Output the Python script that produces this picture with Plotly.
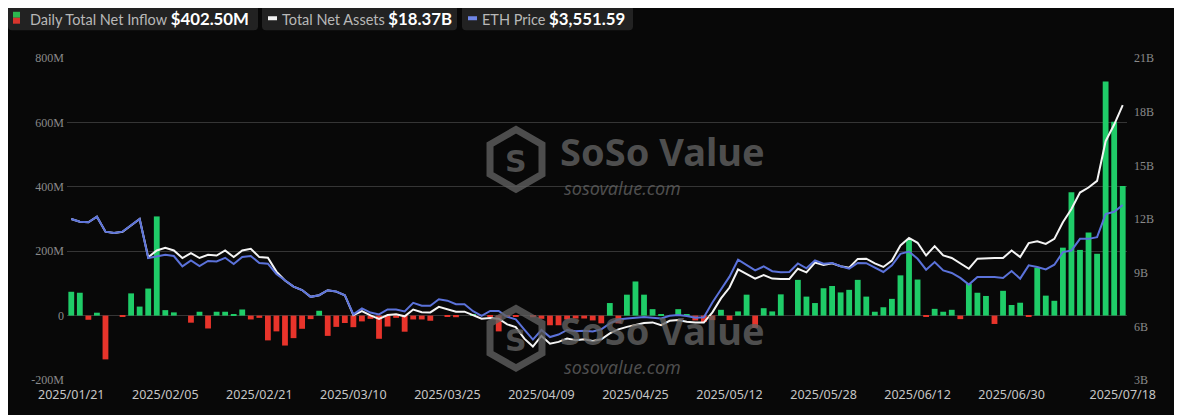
import math
import pandas as pd
import plotly.graph_objects as go

# ---------------- data ----------------
holidays = ["2025-02-17", "2025-04-18", "2025-05-26", "2025-06-19", "2025-07-04"]
dates = [d.strftime("%Y/%m/%d") for d in pd.bdate_range("2025-01-21", "2025-07-18")
         if d.strftime("%Y-%m-%d") not in holidays]

# Daily total net inflow (USD millions)
net_inflow = [74, 71, -13, 9, -136, 0, -2, 69, 28, 84,
              308, 17, 10, 0, -22, 12, -40, 12, 12, 4,
              19, -12, -7, -77, -49, -93, -70, -41, -11, 15,
              -63, -35, -23, -36, -18, -10, -72, -34, -7, -50,
              -12, -12, -16, 0, -3, -5, 0, 4, 0, -2,
              -49, -3, -3, 0, -5, -10, -30, -30, -12, -9,
              -9, -15, -24, 39, -24, 65, 106, 65, 20, 2,
              0, 20, 2, -15, -20, -14, 18, -14, 13, 65,
              -38, 23, 13, 66, 0, 111, 59, 39, 85, 92,
              72, 80, 111, 59, 12, 26, 52, 125, 238, 112,
              -2, 21, 12, 18, -11, 99, 71, 61, -26, 77,
              33, 40, -2, 149, 62, 46, 211, 383, 204, 258,
              192, 727, 602, 402.5]

# Total net assets (USD billions)
net_assets = [12.00, 11.85, 11.82, 12.13, 11.29, 11.22, 11.29, 11.67, 12.00, 9.86,
              10.24, 10.39, 10.24, 9.82, 10.09, 9.82, 10.00, 9.96, 10.24, 9.87,
              10.24, 10.33, 9.87, 9.83, 9.06, 8.56, 8.22, 8.03, 7.65, 7.74,
              8.02, 7.94, 7.74, 6.63, 6.85, 6.61, 6.42, 6.63, 6.67, 6.56,
              6.94, 6.79, 6.78, 7.09, 6.94, 6.82, 6.82, 6.61, 6.43, 6.46,
              6.43, 6.11, 5.96, 5.31, 4.87, 5.46, 5.03, 5.13, 5.32, 5.22,
              5.28, 5.18, 5.28, 5.61, 5.83, 5.97, 6.07, 6.18, 6.22, 6.07,
              6.31, 6.35, 6.26, 6.21, 6.21, 6.78, 7.56, 8.17, 9.18, 8.92,
              8.67, 8.87, 8.67, 8.65, 8.65, 9.22, 9.02, 9.56, 9.43, 9.53,
              9.36, 9.28, 9.77, 9.78, 9.52, 9.32, 9.68, 10.52, 10.94, 10.67,
              9.96, 10.48, 9.96, 9.82, 9.50, 9.22, 9.78, 9.82, 9.82, 9.82,
              10.24, 9.87, 10.65, 10.76, 10.61, 10.89, 11.82, 12.56, 13.48, 13.76,
              14.13, 16.35, 17.28, 18.37]

# ETH price (USD)
eth_price = [3333, 3292, 3282, 3369, 3137, 3117, 3137, 3241, 3333, 2727,
             2758, 2778, 2758, 2597, 2690, 2603, 2681, 2674, 2731, 2634,
             2742, 2758, 2650, 2639, 2480, 2377, 2284, 2230, 2125, 2150,
             2227, 2207, 2150, 1852, 1944, 1880, 1852, 1929, 1929, 1898,
             2032, 1986, 1986, 2088, 2065, 2009, 2009, 1901, 1829, 1906,
             1906, 1816, 1775, 1617, 1461, 1610, 1500, 1539, 1610, 1590,
             1597, 1585, 1620, 1713, 1772, 1790, 1796, 1813, 1801, 1790,
             1832, 1841, 1826, 1801, 1806, 2037, 2238, 2438, 2701, 2623,
             2535, 2597, 2523, 2506, 2511, 2643, 2568, 2690, 2639, 2651,
             2600, 2562, 2651, 2647, 2573, 2511, 2613, 2793, 2829, 2716,
             2546, 2665, 2535, 2495, 2418, 2315, 2434, 2434, 2434, 2418,
             2526, 2407, 2613, 2588, 2551, 2623, 2819, 2844, 3025, 3025,
             3051, 3410, 3446, 3551.59]

tick_idx = [0, 11, 22, 33, 44, 55, 66, 77, 88, 99, 110, 123]
left_ticks = [-200, 0, 200, 400, 600, 800]
left_labels = ["-200M", "0", "200M", "400M", "600M", "800M"]
right_ticks = [3, 6, 9, 12, 15, 18, 21]
right_labels = ["3B", "6B", "9B", "12B", "15B", "18B", "21B"]

# ---------------- styling ----------------
OFF = 8                      # page body margin
PW, PH = 1182, 415           # page size
W, H = PW - OFF, PH - OFF    # figure size
PL, PR, PT, PB = 67, 1127, 58, 382   # plot area in page pixels
BG = "#080808"
GREEN = "#1fcc68"
RED = "#e8342b"
BLUE = "#5b72da"
WHITE = "#f4f4f4"

def pxx(x):
    return (x - PL) / (PR - PL)

def pyy(y):
    return (PB - y) / (PB - PT)

fig = go.Figure()

fig.add_trace(go.Bar(
    x=dates, y=net_inflow, yaxis="y",
    marker=dict(color=[GREEN if v >= 0 else RED for v in net_inflow], line=dict(width=0)),
    width=0.68, name="Daily Total Net Inflow", showlegend=False,
))
fig.add_trace(go.Scatter(
    x=dates, y=eth_price, yaxis="y3", mode="lines",
    line=dict(color=BLUE, width=2), name="ETH Price", showlegend=False,
))
fig.add_trace(go.Scatter(
    x=dates, y=net_assets, yaxis="y2", mode="lines",
    line=dict(color=WHITE, width=2), name="Total Net Assets", showlegend=False,
))

tickfont_y = dict(family="Liberation Serif", size=12, color="#8a8a8a")

fig.update_layout(
    width=W, height=H,
    margin=dict(l=PL - OFF, r=PW - PR, t=PT - OFF, b=PH - PB),
    paper_bgcolor=BG, plot_bgcolor=BG,
    xaxis=dict(
        type="category", categoryorder="array", categoryarray=dates,
        range=[-0.5, len(dates) - 0.5],
        tickvals=[dates[i] for i in tick_idx], ticktext=[dates[i] for i in tick_idx],
        showgrid=False, zeroline=False, showline=False, ticks="",
        tickangle=0, ticklabelstandoff=5,
        tickfont=dict(family="Noto Sans", size=12.5, color="#c6c6c6"),
    ),
    yaxis=dict(
        range=[-200, 800], tickvals=left_ticks, ticktext=left_labels,
        showgrid=True, gridcolor="#353535", gridwidth=1, zeroline=False,
        showline=False, ticks="", tickfont=tickfont_y, ticklabelstandoff=2,
    ),
    yaxis2=dict(
        range=[3, 21], tickvals=right_ticks, ticktext=right_labels,
        overlaying="y", side="right", showgrid=False, zeroline=False,
        showline=False, ticks="", tickfont=tickfont_y, ticklabelstandoff=6,
    ),
    yaxis3=dict(
        range=[3000 / 3.6, 21000 / 3.6], overlaying="y", visible=False,
    ),
)

# ---------------- legend boxes ----------------
def rounded_rect(x0, y0, x1, y1, r=4):
    X0, X1 = pxx(x0), pxx(x1)
    Y0, Y1 = pyy(y0), pyy(y1)
    rx = r / (PR - PL)
    ry = r / (PB - PT)
    return (f"M {X0+rx},{Y0} L {X1-rx},{Y0} Q {X1},{Y0} {X1},{Y0-ry} "
            f"L {X1},{Y1+ry} Q {X1},{Y1} {X1-rx},{Y1} L {X0+rx},{Y1} "
            f"Q {X0},{Y1} {X0},{Y1+ry} L {X0},{Y0-ry} Q {X0},{Y0} {X0+rx},{Y0} Z")

shapes = []
annotations = []
boxes = [(8, 258), (262, 457), (462, 633)]
for (x0, x1) in boxes:
    shapes.append(dict(type="path", xref="paper", yref="paper",
                       path=rounded_rect(x0, 5, x1, 30), fillcolor="#222222",
                       line=dict(width=0), layer="above"))
# icon 1: green/red square
shapes.append(dict(type="rect", xref="paper", yref="paper",
                   x0=pxx(13), x1=pxx(20), y0=pyy(11.5), y1=pyy(17.5),
                   fillcolor="#2db84f", line=dict(width=0), layer="above"))
shapes.append(dict(type="rect", xref="paper", yref="paper",
                   x0=pxx(13), x1=pxx(20), y0=pyy(17.5), y1=pyy(23.5),
                   fillcolor="#d8352d", line=dict(width=0), layer="above"))
# icons 2,3: short lines
shapes.append(dict(type="line", xref="paper", yref="paper",
                   x0=pxx(268), x1=pxx(277), y0=pyy(18), y1=pyy(18),
                   line=dict(color="#f2f2f2", width=4), layer="above"))
shapes.append(dict(type="line", xref="paper", yref="paper",
                   x0=pxx(468), x1=pxx(477), y0=pyy(18), y1=pyy(18),
                   line=dict(color="#6f86e6", width=4), layer="above"))

legend_items = [
    (28, "Daily Total Net Inflow", "$402.50M"),
    (280, "Total Net Assets", "$18.37B"),
    (480, "ETH Price", "$3,551.59"),
]
for x, label, val in legend_items:
    annotations.append(dict(
        xref="paper", yref="paper", x=pxx(x), y=pyy(18), xanchor="left", yanchor="middle",
        showarrow=False,
        text=(f"<span style='color:#b8b8b8;font-size:14.5px'>{label}</span> "
              f"<b><span style='color:#ffffff;font-size:16.8px'>{val}</span></b>"),
        font=dict(family="Lato", size=14, color="#b8b8b8"),
    ))

# ---------------- watermarks ----------------
WM = "rgba(98,98,98,0.78)"
for cy in (160, 340):
    cx, r = 516, 30
    pts = [(cx + r * math.cos(math.radians(a)), cy + r * math.sin(math.radians(a)))
           for a in (-90, -30, 30, 90, 150, 210)]
    path = "M " + " L ".join(f"{pxx(x)},{pyy(y)}" for x, y in pts) + " Z"
    shapes.append(dict(type="path", xref="paper", yref="paper", path=path,
                       line=dict(color=WM, width=7), fillcolor="rgba(0,0,0,0)", layer="above"))
    annotations.append(dict(xref="paper", yref="paper", x=pxx(cx), y=pyy(cy + 2),
                            xanchor="center", yanchor="middle", showarrow=False,
                            text="<b>S</b>", font=dict(family="DejaVu Sans", size=30, color=WM)))
    annotations.append(dict(xref="paper", yref="paper", x=pxx(558), y=pyy(cy - 8),
                            xanchor="left", yanchor="middle", showarrow=False,
                            text="<b>SoSo Value</b>",
                            font=dict(family="Noto Sans", size=38, color=WM)))
    annotations.append(dict(xref="paper", yref="paper", x=pxx(562), y=pyy(cy + 29),
                            xanchor="left", yanchor="middle", showarrow=False,
                            text="<i>sosovalue.com</i>",
                            font=dict(family="Noto Sans", size=18, color=WM)))

fig.update_layout(shapes=shapes, annotations=annotations)

fig.write_html("out.html")
